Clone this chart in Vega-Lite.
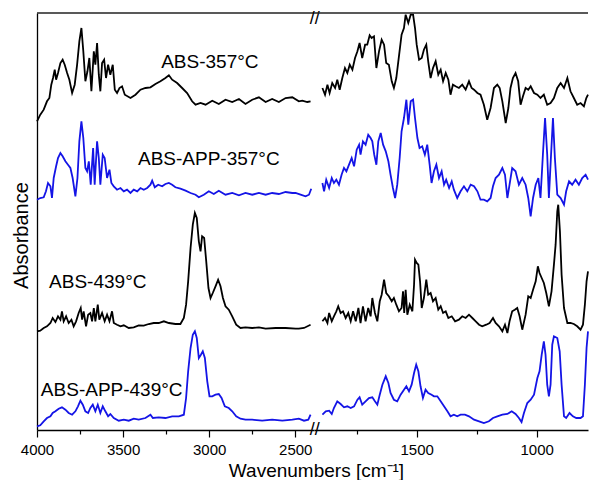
{
"$schema": "https://vega.github.io/schema/vega-lite/v6.json",
"background": "white",
"padding": {"left": 11, "top": 10, "right": 0, "bottom": 0},
"bounds": "flush",
"spacing": 0,
"config": {"view": {"stroke": null}, "font": "Liberation Sans", "concat": {"spacing": 0}},
"datasets": {
"spectra": [
{"s":"ABS-357","g":"L","wn":4000,"a":308.7},{"s":"ABS-357","g":"L","wn":3981,"a":315.3},{"s":"ABS-357","g":"L","wn":3961,"a":320.3},{"s":"ABS-357","g":"L","wn":3942,"a":328.7},{"s":"ABS-357","g":"L","wn":3928,"a":332},{"s":"ABS-357","g":"L","wn":3917,"a":345.3},{"s":"ABS-357","g":"L","wn":3907,"a":352},{"s":"ABS-357","g":"L","wn":3897,"a":360.3},{"s":"ABS-357","g":"L","wn":3889,"a":350.3},{"s":"ABS-357","g":"L","wn":3878,"a":357},{"s":"ABS-357","g":"L","wn":3864,"a":367},{"s":"ABS-357","g":"L","wn":3851,"a":370.3},{"s":"ABS-357","g":"L","wn":3839,"a":365.3},{"s":"ABS-357","g":"L","wn":3825,"a":357},{"s":"ABS-357","g":"L","wn":3812,"a":350.3},{"s":"ABS-357","g":"L","wn":3796,"a":337},{"s":"ABS-357","g":"L","wn":3781,"a":345.3},{"s":"ABS-357","g":"L","wn":3767,"a":365.3},{"s":"ABS-357","g":"L","wn":3754,"a":388.7},{"s":"ABS-357","g":"L","wn":3742,"a":402},{"s":"ABS-357","g":"L","wn":3731,"a":378.7},{"s":"ABS-357","g":"L","wn":3719,"a":348.7},{"s":"ABS-357","g":"L","wn":3707,"a":358.7},{"s":"ABS-357","g":"L","wn":3696,"a":372},{"s":"ABS-357","g":"L","wn":3684,"a":338.7},{"s":"ABS-357","g":"L","wn":3670,"a":378.7},{"s":"ABS-357","g":"L","wn":3661,"a":365.3},{"s":"ABS-357","g":"L","wn":3651,"a":387},{"s":"ABS-357","g":"L","wn":3641,"a":355.3},{"s":"ABS-357","g":"L","wn":3632,"a":338.7},{"s":"ABS-357","g":"L","wn":3622,"a":367},{"s":"ABS-357","g":"L","wn":3610,"a":370.3},{"s":"ABS-357","g":"L","wn":3599,"a":352},{"s":"ABS-357","g":"L","wn":3587,"a":365.3},{"s":"ABS-357","g":"L","wn":3574,"a":355.3},{"s":"ABS-357","g":"L","wn":3560,"a":365.3},{"s":"ABS-357","g":"L","wn":3548,"a":340.3},{"s":"ABS-357","g":"L","wn":3535,"a":337},{"s":"ABS-357","g":"L","wn":3521,"a":342},{"s":"ABS-357","g":"L","wn":3506,"a":343.7},{"s":"ABS-357","g":"L","wn":3490,"a":335.3},{"s":"ABS-357","g":"L","wn":3457,"a":332},{"s":"ABS-357","g":"L","wn":3428,"a":335.3},{"s":"ABS-357","g":"L","wn":3399,"a":340.3},{"s":"ABS-357","g":"L","wn":3370,"a":342},{"s":"ABS-357","g":"L","wn":3341,"a":342.7},{"s":"ABS-357","g":"L","wn":3312,"a":346},{"s":"ABS-357","g":"L","wn":3283,"a":348.7},{"s":"ABS-357","g":"L","wn":3254,"a":352},{"s":"ABS-357","g":"L","wn":3234,"a":354.7},{"s":"ABS-357","g":"L","wn":3215,"a":350.3},{"s":"ABS-357","g":"L","wn":3186,"a":347},{"s":"ABS-357","g":"L","wn":3157,"a":342},{"s":"ABS-357","g":"L","wn":3128,"a":337},{"s":"ABS-357","g":"L","wn":3099,"a":328.7},{"s":"ABS-357","g":"L","wn":3079,"a":325.3},{"s":"ABS-357","g":"L","wn":3050,"a":327},{"s":"ABS-357","g":"L","wn":3021,"a":325.3},{"s":"ABS-357","g":"L","wn":2982,"a":329.3},{"s":"ABS-357","g":"L","wn":2944,"a":326},{"s":"ABS-357","g":"L","wn":2905,"a":330.3},{"s":"ABS-357","g":"L","wn":2866,"a":328},{"s":"ABS-357","g":"L","wn":2827,"a":331},{"s":"ABS-357","g":"L","wn":2789,"a":326},{"s":"ABS-357","g":"L","wn":2750,"a":330.3},{"s":"ABS-357","g":"L","wn":2711,"a":332.7},{"s":"ABS-357","g":"L","wn":2672,"a":328},{"s":"ABS-357","g":"L","wn":2634,"a":331},{"s":"ABS-357","g":"L","wn":2595,"a":328},{"s":"ABS-357","g":"L","wn":2556,"a":332},{"s":"ABS-357","g":"L","wn":2517,"a":332.7},{"s":"ABS-357","g":"L","wn":2479,"a":328.7},{"s":"ABS-357","g":"L","wn":2459,"a":329.3},{"s":"ABS-357","g":"L","wn":2430,"a":328},{"s":"ABS-357","g":"L","wn":2411,"a":328.7},
{"s":"ABS-357","g":"R","wn":1893,"a":342},{"s":"ABS-357","g":"R","wn":1882,"a":335.3},{"s":"ABS-357","g":"R","wn":1872,"a":345.3},{"s":"ABS-357","g":"R","wn":1863,"a":337},{"s":"ABS-357","g":"R","wn":1852,"a":347},{"s":"ABS-357","g":"R","wn":1840,"a":342},{"s":"ABS-357","g":"R","wn":1831,"a":350.3},{"s":"ABS-357","g":"R","wn":1821,"a":340.3},{"s":"ABS-357","g":"R","wn":1810,"a":352},{"s":"ABS-357","g":"R","wn":1799,"a":362},{"s":"ABS-357","g":"R","wn":1789,"a":357},{"s":"ABS-357","g":"R","wn":1779,"a":365.3},{"s":"ABS-357","g":"R","wn":1768,"a":360.3},{"s":"ABS-357","g":"R","wn":1757,"a":372},{"s":"ABS-357","g":"R","wn":1747,"a":378.7},{"s":"ABS-357","g":"R","wn":1738,"a":387},{"s":"ABS-357","g":"R","wn":1727,"a":372},{"s":"ABS-357","g":"R","wn":1715,"a":385.3},{"s":"ABS-357","g":"R","wn":1706,"a":385.3},{"s":"ABS-357","g":"R","wn":1696,"a":394.7},{"s":"ABS-357","g":"R","wn":1688,"a":392},{"s":"ABS-357","g":"R","wn":1678,"a":393.7},{"s":"ABS-357","g":"R","wn":1668,"a":362},{"s":"ABS-357","g":"R","wn":1657,"a":378.7},{"s":"ABS-357","g":"R","wn":1646,"a":390.3},{"s":"ABS-357","g":"R","wn":1636,"a":385.3},{"s":"ABS-357","g":"R","wn":1627,"a":367},{"s":"ABS-357","g":"R","wn":1616,"a":365.3},{"s":"ABS-357","g":"R","wn":1604,"a":348.7},{"s":"ABS-357","g":"R","wn":1595,"a":342},{"s":"ABS-357","g":"R","wn":1585,"a":352},{"s":"ABS-357","g":"R","wn":1574,"a":373.7},{"s":"ABS-357","g":"R","wn":1563,"a":395.3},{"s":"ABS-357","g":"R","wn":1553,"a":402},{"s":"ABS-357","g":"R","wn":1546,"a":415.3},{"s":"ABS-357","g":"R","wn":1535,"a":407},{"s":"ABS-357","g":"R","wn":1525,"a":415.3},{"s":"ABS-357","g":"R","wn":1515,"a":415.3},{"s":"ABS-357","g":"R","wn":1507,"a":402},{"s":"ABS-357","g":"R","wn":1500,"a":385.3},{"s":"ABS-357","g":"R","wn":1490,"a":370.3},{"s":"ABS-357","g":"R","wn":1479,"a":372},{"s":"ABS-357","g":"R","wn":1470,"a":380.3},{"s":"ABS-357","g":"R","wn":1460,"a":385.3},{"s":"ABS-357","g":"R","wn":1452,"a":368.7},{"s":"ABS-357","g":"R","wn":1442,"a":352},{"s":"ABS-357","g":"R","wn":1432,"a":362},{"s":"ABS-357","g":"R","wn":1421,"a":368.7},{"s":"ABS-357","g":"R","wn":1410,"a":355.3},{"s":"ABS-357","g":"R","wn":1400,"a":360.3},{"s":"ABS-357","g":"R","wn":1390,"a":348.7},{"s":"ABS-357","g":"R","wn":1379,"a":357},{"s":"ABS-357","g":"R","wn":1368,"a":350.3},{"s":"ABS-357","g":"R","wn":1359,"a":335.3},{"s":"ABS-357","g":"R","wn":1349,"a":345.3},{"s":"ABS-357","g":"R","wn":1338,"a":343.7},{"s":"ABS-357","g":"R","wn":1324,"a":342},{"s":"ABS-357","g":"R","wn":1310,"a":345.3},{"s":"ABS-357","g":"R","wn":1296,"a":340.3},{"s":"ABS-357","g":"R","wn":1282,"a":348.7},{"s":"ABS-357","g":"R","wn":1271,"a":342},{"s":"ABS-357","g":"R","wn":1261,"a":340.3},{"s":"ABS-357","g":"R","wn":1247,"a":337},{"s":"ABS-357","g":"R","wn":1234,"a":335.3},{"s":"ABS-357","g":"R","wn":1220,"a":325.3},{"s":"ABS-357","g":"R","wn":1206,"a":310.3},{"s":"ABS-357","g":"R","wn":1192,"a":322},{"s":"ABS-357","g":"R","wn":1178,"a":342},{"s":"ABS-357","g":"R","wn":1164,"a":345.3},{"s":"ABS-357","g":"R","wn":1154,"a":342},{"s":"ABS-357","g":"R","wn":1143,"a":328.7},{"s":"ABS-357","g":"R","wn":1129,"a":307},{"s":"ABS-357","g":"R","wn":1118,"a":322},{"s":"ABS-357","g":"R","wn":1109,"a":342},{"s":"ABS-357","g":"R","wn":1099,"a":352},{"s":"ABS-357","g":"R","wn":1088,"a":357},{"s":"ABS-357","g":"R","wn":1077,"a":348.7},{"s":"ABS-357","g":"R","wn":1067,"a":325.3},{"s":"ABS-357","g":"R","wn":1057,"a":333.7},{"s":"ABS-357","g":"R","wn":1046,"a":342},{"s":"ABS-357","g":"R","wn":1035,"a":340.3},{"s":"ABS-357","g":"R","wn":1025,"a":343.7},{"s":"ABS-357","g":"R","wn":1011,"a":337},{"s":"ABS-357","g":"R","wn":997,"a":335.3},{"s":"ABS-357","g":"R","wn":984,"a":332},{"s":"ABS-357","g":"R","wn":970,"a":335.3},{"s":"ABS-357","g":"R","wn":956,"a":325.3},{"s":"ABS-357","g":"R","wn":942,"a":327},{"s":"ABS-357","g":"R","wn":928,"a":332},{"s":"ABS-357","g":"R","wn":914,"a":342},{"s":"ABS-357","g":"R","wn":900,"a":347},{"s":"ABS-357","g":"R","wn":886,"a":342},{"s":"ABS-357","g":"R","wn":872,"a":352},{"s":"ABS-357","g":"R","wn":859,"a":338.7},{"s":"ABS-357","g":"R","wn":845,"a":332},{"s":"ABS-357","g":"R","wn":831,"a":325.3},{"s":"ABS-357","g":"R","wn":817,"a":327},{"s":"ABS-357","g":"R","wn":803,"a":323.7},{"s":"ABS-357","g":"R","wn":793,"a":332},{"s":"ABS-357","g":"R","wn":786,"a":335.3},
{"s":"ABS-APP-357","g":"L","wn":4000,"a":230.3},{"s":"ABS-APP-357","g":"L","wn":3981,"a":232},{"s":"ABS-APP-357","g":"L","wn":3961,"a":232.7},{"s":"ABS-APP-357","g":"L","wn":3948,"a":238.7},{"s":"ABS-APP-357","g":"L","wn":3936,"a":247},{"s":"ABS-APP-357","g":"L","wn":3922,"a":243.7},{"s":"ABS-APP-357","g":"L","wn":3913,"a":232},{"s":"ABS-APP-357","g":"L","wn":3903,"a":252},{"s":"ABS-APP-357","g":"L","wn":3889,"a":263.7},{"s":"ABS-APP-357","g":"L","wn":3878,"a":272},{"s":"ABS-APP-357","g":"L","wn":3864,"a":277},{"s":"ABS-APP-357","g":"L","wn":3851,"a":273.7},{"s":"ABS-APP-357","g":"L","wn":3835,"a":268.7},{"s":"ABS-APP-357","g":"L","wn":3820,"a":265.3},{"s":"ABS-APP-357","g":"L","wn":3806,"a":262},{"s":"ABS-APP-357","g":"L","wn":3793,"a":252},{"s":"ABS-APP-357","g":"L","wn":3777,"a":233.7},{"s":"ABS-APP-357","g":"L","wn":3765,"a":252},{"s":"ABS-APP-357","g":"L","wn":3754,"a":288.7},{"s":"ABS-APP-357","g":"L","wn":3742,"a":308.7},{"s":"ABS-APP-357","g":"L","wn":3731,"a":292},{"s":"ABS-APP-357","g":"L","wn":3719,"a":262},{"s":"ABS-APP-357","g":"L","wn":3709,"a":258.7},{"s":"ABS-APP-357","g":"L","wn":3699,"a":268.7},{"s":"ABS-APP-357","g":"L","wn":3688,"a":245.3},{"s":"ABS-APP-357","g":"L","wn":3674,"a":282},{"s":"ABS-APP-357","g":"L","wn":3665,"a":245.3},{"s":"ABS-APP-357","g":"L","wn":3651,"a":288.7},{"s":"ABS-APP-357","g":"L","wn":3641,"a":272},{"s":"ABS-APP-357","g":"L","wn":3632,"a":245.3},{"s":"ABS-APP-357","g":"L","wn":3618,"a":275.3},{"s":"ABS-APP-357","g":"L","wn":3607,"a":272},{"s":"ABS-APP-357","g":"L","wn":3593,"a":252},{"s":"ABS-APP-357","g":"L","wn":3579,"a":260.3},{"s":"ABS-APP-357","g":"L","wn":3568,"a":247},{"s":"ABS-APP-357","g":"L","wn":3554,"a":243.7},{"s":"ABS-APP-357","g":"L","wn":3535,"a":240.3},{"s":"ABS-APP-357","g":"L","wn":3515,"a":242},{"s":"ABS-APP-357","g":"L","wn":3496,"a":238.7},{"s":"ABS-APP-357","g":"L","wn":3477,"a":240.3},{"s":"ABS-APP-357","g":"L","wn":3457,"a":237},{"s":"ABS-APP-357","g":"L","wn":3438,"a":240.3},{"s":"ABS-APP-357","g":"L","wn":3418,"a":238.7},{"s":"ABS-APP-357","g":"L","wn":3399,"a":242},{"s":"ABS-APP-357","g":"L","wn":3380,"a":240.3},{"s":"ABS-APP-357","g":"L","wn":3360,"a":242},{"s":"ABS-APP-357","g":"L","wn":3341,"a":245.3},{"s":"ABS-APP-357","g":"L","wn":3331,"a":249.3},{"s":"ABS-APP-357","g":"L","wn":3316,"a":242.7},{"s":"ABS-APP-357","g":"L","wn":3296,"a":245.3},{"s":"ABS-APP-357","g":"L","wn":3273,"a":243.7},{"s":"ABS-APP-357","g":"L","wn":3254,"a":246},{"s":"ABS-APP-357","g":"L","wn":3234,"a":247},{"s":"ABS-APP-357","g":"L","wn":3215,"a":245.3},{"s":"ABS-APP-357","g":"L","wn":3196,"a":242.7},{"s":"ABS-APP-357","g":"L","wn":3167,"a":241.3},{"s":"ABS-APP-357","g":"L","wn":3137,"a":239.3},{"s":"ABS-APP-357","g":"L","wn":3108,"a":237},{"s":"ABS-APP-357","g":"L","wn":3079,"a":235.3},{"s":"ABS-APP-357","g":"L","wn":3060,"a":232.7},{"s":"ABS-APP-357","g":"L","wn":3031,"a":235.3},{"s":"ABS-APP-357","g":"L","wn":3002,"a":238.7},{"s":"ABS-APP-357","g":"L","wn":2973,"a":236},{"s":"ABS-APP-357","g":"L","wn":2944,"a":239.3},{"s":"ABS-APP-357","g":"L","wn":2905,"a":235.3},{"s":"ABS-APP-357","g":"L","wn":2866,"a":237},{"s":"ABS-APP-357","g":"L","wn":2827,"a":234.7},{"s":"ABS-APP-357","g":"L","wn":2789,"a":237},{"s":"ABS-APP-357","g":"L","wn":2750,"a":235.3},{"s":"ABS-APP-357","g":"L","wn":2711,"a":237},{"s":"ABS-APP-357","g":"L","wn":2672,"a":235.3},{"s":"ABS-APP-357","g":"L","wn":2634,"a":237},{"s":"ABS-APP-357","g":"L","wn":2595,"a":236},{"s":"ABS-APP-357","g":"L","wn":2556,"a":238},{"s":"ABS-APP-357","g":"L","wn":2517,"a":237},{"s":"ABS-APP-357","g":"L","wn":2498,"a":237},{"s":"ABS-APP-357","g":"L","wn":2469,"a":235.3},{"s":"ABS-APP-357","g":"L","wn":2440,"a":233.7},{"s":"ABS-APP-357","g":"L","wn":2420,"a":235.3},{"s":"ABS-APP-357","g":"L","wn":2407,"a":241.3},
{"s":"ABS-APP-357","g":"R","wn":1893,"a":247},{"s":"ABS-APP-357","g":"R","wn":1886,"a":238.7},{"s":"ABS-APP-357","g":"R","wn":1877,"a":250.3},{"s":"ABS-APP-357","g":"R","wn":1865,"a":242},{"s":"ABS-APP-357","g":"R","wn":1854,"a":252},{"s":"ABS-APP-357","g":"R","wn":1845,"a":247},{"s":"ABS-APP-357","g":"R","wn":1835,"a":250.3},{"s":"ABS-APP-357","g":"R","wn":1824,"a":245.3},{"s":"ABS-APP-357","g":"R","wn":1813,"a":255.3},{"s":"ABS-APP-357","g":"R","wn":1803,"a":262},{"s":"ABS-APP-357","g":"R","wn":1793,"a":258.7},{"s":"ABS-APP-357","g":"R","wn":1782,"a":265.3},{"s":"ABS-APP-357","g":"R","wn":1771,"a":272},{"s":"ABS-APP-357","g":"R","wn":1761,"a":263.7},{"s":"ABS-APP-357","g":"R","wn":1750,"a":280.3},{"s":"ABS-APP-357","g":"R","wn":1740,"a":285.3},{"s":"ABS-APP-357","g":"R","wn":1734,"a":275.3},{"s":"ABS-APP-357","g":"R","wn":1724,"a":288.7},{"s":"ABS-APP-357","g":"R","wn":1713,"a":285.3},{"s":"ABS-APP-357","g":"R","wn":1702,"a":295.3},{"s":"ABS-APP-357","g":"R","wn":1692,"a":292},{"s":"ABS-APP-357","g":"R","wn":1685,"a":288.7},{"s":"ABS-APP-357","g":"R","wn":1677,"a":275.3},{"s":"ABS-APP-357","g":"R","wn":1668,"a":265.3},{"s":"ABS-APP-357","g":"R","wn":1660,"a":288.7},{"s":"ABS-APP-357","g":"R","wn":1650,"a":297},{"s":"ABS-APP-357","g":"R","wn":1640,"a":285.3},{"s":"ABS-APP-357","g":"R","wn":1629,"a":278.7},{"s":"ABS-APP-357","g":"R","wn":1618,"a":268.7},{"s":"ABS-APP-357","g":"R","wn":1609,"a":255.3},{"s":"ABS-APP-357","g":"R","wn":1599,"a":242},{"s":"ABS-APP-357","g":"R","wn":1590,"a":232},{"s":"ABS-APP-357","g":"R","wn":1581,"a":245.3},{"s":"ABS-APP-357","g":"R","wn":1571,"a":272},{"s":"ABS-APP-357","g":"R","wn":1563,"a":298.7},{"s":"ABS-APP-357","g":"R","wn":1553,"a":312},{"s":"ABS-APP-357","g":"R","wn":1543,"a":330.3},{"s":"ABS-APP-357","g":"R","wn":1535,"a":305.3},{"s":"ABS-APP-357","g":"R","wn":1525,"a":328.7},{"s":"ABS-APP-357","g":"R","wn":1515,"a":330.3},{"s":"ABS-APP-357","g":"R","wn":1507,"a":312},{"s":"ABS-APP-357","g":"R","wn":1497,"a":292},{"s":"ABS-APP-357","g":"R","wn":1488,"a":282},{"s":"ABS-APP-357","g":"R","wn":1477,"a":283.7},{"s":"ABS-APP-357","g":"R","wn":1466,"a":275.3},{"s":"ABS-APP-357","g":"R","wn":1456,"a":285.3},{"s":"ABS-APP-357","g":"R","wn":1446,"a":265.3},{"s":"ABS-APP-357","g":"R","wn":1438,"a":247},{"s":"ABS-APP-357","g":"R","wn":1428,"a":258.7},{"s":"ABS-APP-357","g":"R","wn":1418,"a":265.3},{"s":"ABS-APP-357","g":"R","wn":1407,"a":252},{"s":"ABS-APP-357","g":"R","wn":1396,"a":258.7},{"s":"ABS-APP-357","g":"R","wn":1386,"a":245.3},{"s":"ABS-APP-357","g":"R","wn":1377,"a":250.3},{"s":"ABS-APP-357","g":"R","wn":1365,"a":242},{"s":"ABS-APP-357","g":"R","wn":1354,"a":248.7},{"s":"ABS-APP-357","g":"R","wn":1345,"a":240.3},{"s":"ABS-APP-357","g":"R","wn":1331,"a":232},{"s":"ABS-APP-357","g":"R","wn":1317,"a":238.7},{"s":"ABS-APP-357","g":"R","wn":1303,"a":243.7},{"s":"ABS-APP-357","g":"R","wn":1289,"a":238.7},{"s":"ABS-APP-357","g":"R","wn":1275,"a":245.3},{"s":"ABS-APP-357","g":"R","wn":1261,"a":243.7},{"s":"ABS-APP-357","g":"R","wn":1247,"a":238.7},{"s":"ABS-APP-357","g":"R","wn":1234,"a":230.3},{"s":"ABS-APP-357","g":"R","wn":1220,"a":230.3},{"s":"ABS-APP-357","g":"R","wn":1206,"a":228.7},{"s":"ABS-APP-357","g":"R","wn":1192,"a":232},{"s":"ABS-APP-357","g":"R","wn":1182,"a":243.7},{"s":"ABS-APP-357","g":"R","wn":1171,"a":252},{"s":"ABS-APP-357","g":"R","wn":1157,"a":255.3},{"s":"ABS-APP-357","g":"R","wn":1143,"a":262},{"s":"ABS-APP-357","g":"R","wn":1132,"a":255.3},{"s":"ABS-APP-357","g":"R","wn":1122,"a":232},{"s":"ABS-APP-357","g":"R","wn":1113,"a":245.3},{"s":"ABS-APP-357","g":"R","wn":1102,"a":262},{"s":"ABS-APP-357","g":"R","wn":1088,"a":258.7},{"s":"ABS-APP-357","g":"R","wn":1074,"a":245.3},{"s":"ABS-APP-357","g":"R","wn":1060,"a":252},{"s":"ABS-APP-357","g":"R","wn":1046,"a":245.3},{"s":"ABS-APP-357","g":"R","wn":1035,"a":232},{"s":"ABS-APP-357","g":"R","wn":1025,"a":213.7},{"s":"ABS-APP-357","g":"R","wn":1015,"a":232},{"s":"ABS-APP-357","g":"R","wn":1004,"a":245.3},{"s":"ABS-APP-357","g":"R","wn":993,"a":252},{"s":"ABS-APP-357","g":"R","wn":984,"a":232},{"s":"ABS-APP-357","g":"R","wn":974,"a":275.3},{"s":"ABS-APP-357","g":"R","wn":965,"a":312},{"s":"ABS-APP-357","g":"R","wn":956,"a":275.3},{"s":"ABS-APP-357","g":"R","wn":949,"a":232},{"s":"ABS-APP-357","g":"R","wn":940,"a":275.3},{"s":"ABS-APP-357","g":"R","wn":932,"a":312},{"s":"ABS-APP-357","g":"R","wn":924,"a":272},{"s":"ABS-APP-357","g":"R","wn":914,"a":235.3},{"s":"ABS-APP-357","g":"R","wn":900,"a":232},{"s":"ABS-APP-357","g":"R","wn":886,"a":225.3},{"s":"ABS-APP-357","g":"R","wn":877,"a":238.7},{"s":"ABS-APP-357","g":"R","wn":865,"a":248.7},{"s":"ABS-APP-357","g":"R","wn":852,"a":245.3},{"s":"ABS-APP-357","g":"R","wn":838,"a":250.3},{"s":"ABS-APP-357","g":"R","wn":824,"a":245.3},{"s":"ABS-APP-357","g":"R","wn":810,"a":252},{"s":"ABS-APP-357","g":"R","wn":796,"a":255.3},{"s":"ABS-APP-357","g":"R","wn":786,"a":250.3},
{"s":"ABS-439","g":"L","wn":4000,"a":98.7},{"s":"ABS-439","g":"L","wn":3981,"a":99.3},{"s":"ABS-439","g":"L","wn":3961,"a":102},{"s":"ABS-439","g":"L","wn":3942,"a":103.7},{"s":"ABS-439","g":"L","wn":3922,"a":107},{"s":"ABS-439","g":"L","wn":3909,"a":112},{"s":"ABS-439","g":"L","wn":3893,"a":108},{"s":"ABS-439","g":"L","wn":3878,"a":113.7},{"s":"ABS-439","g":"L","wn":3864,"a":110.3},{"s":"ABS-439","g":"L","wn":3855,"a":118.7},{"s":"ABS-439","g":"L","wn":3845,"a":108.7},{"s":"ABS-439","g":"L","wn":3831,"a":113.7},{"s":"ABS-439","g":"L","wn":3816,"a":107},{"s":"ABS-439","g":"L","wn":3800,"a":110.3},{"s":"ABS-439","g":"L","wn":3787,"a":103.7},{"s":"ABS-439","g":"L","wn":3773,"a":108.7},{"s":"ABS-439","g":"L","wn":3758,"a":117},{"s":"ABS-439","g":"L","wn":3746,"a":122},{"s":"ABS-439","g":"L","wn":3738,"a":110.3},{"s":"ABS-439","g":"L","wn":3729,"a":118.7},{"s":"ABS-439","g":"L","wn":3715,"a":103.7},{"s":"ABS-439","g":"L","wn":3703,"a":115.3},{"s":"ABS-439","g":"L","wn":3690,"a":117},{"s":"ABS-439","g":"L","wn":3680,"a":108.7},{"s":"ABS-439","g":"L","wn":3670,"a":122},{"s":"ABS-439","g":"L","wn":3661,"a":108.7},{"s":"ABS-439","g":"L","wn":3647,"a":125.3},{"s":"ABS-439","g":"L","wn":3638,"a":110.3},{"s":"ABS-439","g":"L","wn":3622,"a":117},{"s":"ABS-439","g":"L","wn":3607,"a":108.7},{"s":"ABS-439","g":"L","wn":3593,"a":115.3},{"s":"ABS-439","g":"L","wn":3579,"a":108.7},{"s":"ABS-439","g":"L","wn":3564,"a":118.7},{"s":"ABS-439","g":"L","wn":3554,"a":107},{"s":"ABS-439","g":"L","wn":3535,"a":105.3},{"s":"ABS-439","g":"L","wn":3515,"a":103.7},{"s":"ABS-439","g":"L","wn":3496,"a":104.7},{"s":"ABS-439","g":"L","wn":3467,"a":102},{"s":"ABS-439","g":"L","wn":3438,"a":102.7},{"s":"ABS-439","g":"L","wn":3409,"a":104.7},{"s":"ABS-439","g":"L","wn":3380,"a":104.3},{"s":"ABS-439","g":"L","wn":3351,"a":106},{"s":"ABS-439","g":"L","wn":3322,"a":107},{"s":"ABS-439","g":"L","wn":3293,"a":107},{"s":"ABS-439","g":"L","wn":3263,"a":108.7},{"s":"ABS-439","g":"L","wn":3234,"a":107},{"s":"ABS-439","g":"L","wn":3196,"a":106},{"s":"ABS-439","g":"L","wn":3167,"a":106},{"s":"ABS-439","g":"L","wn":3147,"a":112},{"s":"ABS-439","g":"L","wn":3134,"a":125.3},{"s":"ABS-439","g":"L","wn":3122,"a":148.7},{"s":"ABS-439","g":"L","wn":3108,"a":182},{"s":"ABS-439","g":"L","wn":3095,"a":205.3},{"s":"ABS-439","g":"L","wn":3083,"a":217},{"s":"ABS-439","g":"L","wn":3072,"a":212},{"s":"ABS-439","g":"L","wn":3060,"a":188.7},{"s":"ABS-439","g":"L","wn":3050,"a":178.7},{"s":"ABS-439","g":"L","wn":3041,"a":193.7},{"s":"ABS-439","g":"L","wn":3029,"a":192},{"s":"ABS-439","g":"L","wn":3017,"a":168.7},{"s":"ABS-439","g":"L","wn":3004,"a":142},{"s":"ABS-439","g":"L","wn":2992,"a":132},{"s":"ABS-439","g":"L","wn":2979,"a":137},{"s":"ABS-439","g":"L","wn":2963,"a":143.7},{"s":"ABS-439","g":"L","wn":2948,"a":150.3},{"s":"ABS-439","g":"L","wn":2934,"a":143.7},{"s":"ABS-439","g":"L","wn":2920,"a":132},{"s":"ABS-439","g":"L","wn":2905,"a":123.7},{"s":"ABS-439","g":"L","wn":2886,"a":120.3},{"s":"ABS-439","g":"L","wn":2866,"a":113.7},{"s":"ABS-439","g":"L","wn":2843,"a":105.3},{"s":"ABS-439","g":"L","wn":2818,"a":102},{"s":"ABS-439","g":"L","wn":2789,"a":102.7},{"s":"ABS-439","g":"L","wn":2750,"a":102},{"s":"ABS-439","g":"L","wn":2711,"a":102.7},{"s":"ABS-439","g":"L","wn":2672,"a":101.3},{"s":"ABS-439","g":"L","wn":2614,"a":102},{"s":"ABS-439","g":"L","wn":2556,"a":102},{"s":"ABS-439","g":"L","wn":2498,"a":101.3},{"s":"ABS-439","g":"L","wn":2479,"a":101.3},{"s":"ABS-439","g":"L","wn":2449,"a":102},{"s":"ABS-439","g":"L","wn":2411,"a":105.3},
{"s":"ABS-439","g":"R","wn":1893,"a":108.7},{"s":"ABS-439","g":"R","wn":1882,"a":112},{"s":"ABS-439","g":"R","wn":1872,"a":107},{"s":"ABS-439","g":"R","wn":1865,"a":117},{"s":"ABS-439","g":"R","wn":1854,"a":108.7},{"s":"ABS-439","g":"R","wn":1845,"a":113.7},{"s":"ABS-439","g":"R","wn":1835,"a":118.7},{"s":"ABS-439","g":"R","wn":1827,"a":123.7},{"s":"ABS-439","g":"R","wn":1817,"a":117},{"s":"ABS-439","g":"R","wn":1807,"a":118.7},{"s":"ABS-439","g":"R","wn":1796,"a":112},{"s":"ABS-439","g":"R","wn":1785,"a":117},{"s":"ABS-439","g":"R","wn":1775,"a":108.7},{"s":"ABS-439","g":"R","wn":1765,"a":118.7},{"s":"ABS-439","g":"R","wn":1754,"a":108.7},{"s":"ABS-439","g":"R","wn":1743,"a":122},{"s":"ABS-439","g":"R","wn":1734,"a":107},{"s":"ABS-439","g":"R","wn":1724,"a":123.7},{"s":"ABS-439","g":"R","wn":1713,"a":108.7},{"s":"ABS-439","g":"R","wn":1702,"a":122},{"s":"ABS-439","g":"R","wn":1692,"a":113.7},{"s":"ABS-439","g":"R","wn":1685,"a":132},{"s":"ABS-439","g":"R","wn":1674,"a":117},{"s":"ABS-439","g":"R","wn":1664,"a":108.7},{"s":"ABS-439","g":"R","wn":1654,"a":128.7},{"s":"ABS-439","g":"R","wn":1646,"a":135.3},{"s":"ABS-439","g":"R","wn":1636,"a":150.3},{"s":"ABS-439","g":"R","wn":1627,"a":137},{"s":"ABS-439","g":"R","wn":1616,"a":133.7},{"s":"ABS-439","g":"R","wn":1604,"a":128.7},{"s":"ABS-439","g":"R","wn":1595,"a":132},{"s":"ABS-439","g":"R","wn":1585,"a":125.3},{"s":"ABS-439","g":"R","wn":1574,"a":118.7},{"s":"ABS-439","g":"R","wn":1563,"a":122},{"s":"ABS-439","g":"R","wn":1557,"a":138.7},{"s":"ABS-439","g":"R","wn":1552,"a":117},{"s":"ABS-439","g":"R","wn":1546,"a":140.3},{"s":"ABS-439","g":"R","wn":1539,"a":115.3},{"s":"ABS-439","g":"R","wn":1529,"a":125.3},{"s":"ABS-439","g":"R","wn":1518,"a":118.7},{"s":"ABS-439","g":"R","wn":1511,"a":145.3},{"s":"ABS-439","g":"R","wn":1507,"a":170.3},{"s":"ABS-439","g":"R","wn":1500,"a":167},{"s":"ABS-439","g":"R","wn":1493,"a":165.3},{"s":"ABS-439","g":"R","wn":1486,"a":148.7},{"s":"ABS-439","g":"R","wn":1479,"a":122},{"s":"ABS-439","g":"R","wn":1470,"a":132},{"s":"ABS-439","g":"R","wn":1460,"a":150.3},{"s":"ABS-439","g":"R","wn":1452,"a":135.3},{"s":"ABS-439","g":"R","wn":1442,"a":137},{"s":"ABS-439","g":"R","wn":1432,"a":128.7},{"s":"ABS-439","g":"R","wn":1421,"a":132},{"s":"ABS-439","g":"R","wn":1410,"a":120.3},{"s":"ABS-439","g":"R","wn":1400,"a":123.7},{"s":"ABS-439","g":"R","wn":1390,"a":117},{"s":"ABS-439","g":"R","wn":1379,"a":118.7},{"s":"ABS-439","g":"R","wn":1368,"a":112},{"s":"ABS-439","g":"R","wn":1354,"a":113.7},{"s":"ABS-439","g":"R","wn":1340,"a":108.7},{"s":"ABS-439","g":"R","wn":1324,"a":110.3},{"s":"ABS-439","g":"R","wn":1310,"a":113.7},{"s":"ABS-439","g":"R","wn":1296,"a":112},{"s":"ABS-439","g":"R","wn":1282,"a":115.3},{"s":"ABS-439","g":"R","wn":1268,"a":112},{"s":"ABS-439","g":"R","wn":1254,"a":108.7},{"s":"ABS-439","g":"R","wn":1240,"a":105.3},{"s":"ABS-439","g":"R","wn":1227,"a":103.7},{"s":"ABS-439","g":"R","wn":1210,"a":105.3},{"s":"ABS-439","g":"R","wn":1196,"a":107},{"s":"ABS-439","g":"R","wn":1182,"a":112},{"s":"ABS-439","g":"R","wn":1171,"a":107},{"s":"ABS-439","g":"R","wn":1157,"a":103.7},{"s":"ABS-439","g":"R","wn":1143,"a":98.7},{"s":"ABS-439","g":"R","wn":1132,"a":105.3},{"s":"ABS-439","g":"R","wn":1122,"a":97},{"s":"ABS-439","g":"R","wn":1113,"a":108.7},{"s":"ABS-439","g":"R","wn":1102,"a":118.7},{"s":"ABS-439","g":"R","wn":1091,"a":120.3},{"s":"ABS-439","g":"R","wn":1081,"a":122},{"s":"ABS-439","g":"R","wn":1071,"a":113.7},{"s":"ABS-439","g":"R","wn":1060,"a":100.3},{"s":"ABS-439","g":"R","wn":1046,"a":115.3},{"s":"ABS-439","g":"R","wn":1035,"a":133.7},{"s":"ABS-439","g":"R","wn":1025,"a":132},{"s":"ABS-439","g":"R","wn":1015,"a":140.3},{"s":"ABS-439","g":"R","wn":1004,"a":148.7},{"s":"ABS-439","g":"R","wn":995,"a":163.7},{"s":"ABS-439","g":"R","wn":988,"a":157},{"s":"ABS-439","g":"R","wn":979,"a":152},{"s":"ABS-439","g":"R","wn":970,"a":147},{"s":"ABS-439","g":"R","wn":960,"a":137},{"s":"ABS-439","g":"R","wn":949,"a":123.7},{"s":"ABS-439","g":"R","wn":938,"a":138.7},{"s":"ABS-439","g":"R","wn":928,"a":165.3},{"s":"ABS-439","g":"R","wn":921,"a":185.3},{"s":"ABS-439","g":"R","wn":914,"a":218.7},{"s":"ABS-439","g":"R","wn":910,"a":225.3},{"s":"ABS-439","g":"R","wn":903,"a":198.7},{"s":"ABS-439","g":"R","wn":896,"a":155.3},{"s":"ABS-439","g":"R","wn":886,"a":122},{"s":"ABS-439","g":"R","wn":872,"a":107},{"s":"ABS-439","g":"R","wn":859,"a":107},{"s":"ABS-439","g":"R","wn":845,"a":106},{"s":"ABS-439","g":"R","wn":831,"a":103.7},{"s":"ABS-439","g":"R","wn":817,"a":100.3},{"s":"ABS-439","g":"R","wn":807,"a":105.3},{"s":"ABS-439","g":"R","wn":799,"a":125.3},{"s":"ABS-439","g":"R","wn":792,"a":148.7},{"s":"ABS-439","g":"R","wn":786,"a":158.7},
{"s":"ABS-APP-439","g":"L","wn":4000,"a":3.7},{"s":"ABS-APP-439","g":"L","wn":3981,"a":4.7},{"s":"ABS-APP-439","g":"L","wn":3961,"a":8.7},{"s":"ABS-APP-439","g":"L","wn":3942,"a":12},{"s":"ABS-APP-439","g":"L","wn":3922,"a":13.7},{"s":"ABS-APP-439","g":"L","wn":3909,"a":17},{"s":"ABS-APP-439","g":"L","wn":3893,"a":18.7},{"s":"ABS-APP-439","g":"L","wn":3874,"a":21.3},{"s":"ABS-APP-439","g":"L","wn":3855,"a":22.7},{"s":"ABS-APP-439","g":"L","wn":3835,"a":20.3},{"s":"ABS-APP-439","g":"L","wn":3816,"a":17},{"s":"ABS-APP-439","g":"L","wn":3796,"a":15.3},{"s":"ABS-APP-439","g":"L","wn":3777,"a":18.7},{"s":"ABS-APP-439","g":"L","wn":3762,"a":23.7},{"s":"ABS-APP-439","g":"L","wn":3748,"a":29.3},{"s":"ABS-APP-439","g":"L","wn":3734,"a":25.3},{"s":"ABS-APP-439","g":"L","wn":3719,"a":18.7},{"s":"ABS-APP-439","g":"L","wn":3703,"a":17},{"s":"ABS-APP-439","g":"L","wn":3690,"a":22},{"s":"ABS-APP-439","g":"L","wn":3676,"a":25.3},{"s":"ABS-APP-439","g":"L","wn":3661,"a":18.7},{"s":"ABS-APP-439","g":"L","wn":3647,"a":25.3},{"s":"ABS-APP-439","g":"L","wn":3632,"a":17},{"s":"ABS-APP-439","g":"L","wn":3618,"a":23.7},{"s":"ABS-APP-439","g":"L","wn":3603,"a":18.7},{"s":"ABS-APP-439","g":"L","wn":3587,"a":13.7},{"s":"ABS-APP-439","g":"L","wn":3574,"a":16},{"s":"ABS-APP-439","g":"L","wn":3554,"a":12},{"s":"ABS-APP-439","g":"L","wn":3525,"a":9.3},{"s":"ABS-APP-439","g":"L","wn":3496,"a":10.3},{"s":"ABS-APP-439","g":"L","wn":3467,"a":9.3},{"s":"ABS-APP-439","g":"L","wn":3438,"a":11.3},{"s":"ABS-APP-439","g":"L","wn":3409,"a":10.3},{"s":"ABS-APP-439","g":"L","wn":3370,"a":12},{"s":"ABS-APP-439","g":"L","wn":3341,"a":15.3},{"s":"ABS-APP-439","g":"L","wn":3327,"a":12},{"s":"ABS-APP-439","g":"L","wn":3293,"a":12.7},{"s":"ABS-APP-439","g":"L","wn":3254,"a":12},{"s":"ABS-APP-439","g":"L","wn":3215,"a":13.7},{"s":"ABS-APP-439","g":"L","wn":3176,"a":13.7},{"s":"ABS-APP-439","g":"L","wn":3147,"a":15.3},{"s":"ABS-APP-439","g":"L","wn":3134,"a":32},{"s":"ABS-APP-439","g":"L","wn":3122,"a":58.7},{"s":"ABS-APP-439","g":"L","wn":3108,"a":82},{"s":"ABS-APP-439","g":"L","wn":3095,"a":95.3},{"s":"ABS-APP-439","g":"L","wn":3083,"a":98.7},{"s":"ABS-APP-439","g":"L","wn":3072,"a":92},{"s":"ABS-APP-439","g":"L","wn":3060,"a":72},{"s":"ABS-APP-439","g":"L","wn":3048,"a":75.3},{"s":"ABS-APP-439","g":"L","wn":3037,"a":78.7},{"s":"ABS-APP-439","g":"L","wn":3025,"a":72},{"s":"ABS-APP-439","g":"L","wn":3011,"a":48.7},{"s":"ABS-APP-439","g":"L","wn":2998,"a":33.7},{"s":"ABS-APP-439","g":"L","wn":2982,"a":33.7},{"s":"ABS-APP-439","g":"L","wn":2963,"a":35.3},{"s":"ABS-APP-439","g":"L","wn":2944,"a":36},{"s":"ABS-APP-439","g":"L","wn":2928,"a":32},{"s":"ABS-APP-439","g":"L","wn":2909,"a":23.7},{"s":"ABS-APP-439","g":"L","wn":2886,"a":22},{"s":"ABS-APP-439","g":"L","wn":2866,"a":18.7},{"s":"ABS-APP-439","g":"L","wn":2843,"a":13.7},{"s":"ABS-APP-439","g":"L","wn":2818,"a":11.3},{"s":"ABS-APP-439","g":"L","wn":2789,"a":10.3},{"s":"ABS-APP-439","g":"L","wn":2750,"a":10.3},{"s":"ABS-APP-439","g":"L","wn":2692,"a":9.3},{"s":"ABS-APP-439","g":"L","wn":2634,"a":10.3},{"s":"ABS-APP-439","g":"L","wn":2575,"a":9.3},{"s":"ABS-APP-439","g":"L","wn":2517,"a":10.3},{"s":"ABS-APP-439","g":"L","wn":2479,"a":11.3},{"s":"ABS-APP-439","g":"L","wn":2449,"a":9.3},{"s":"ABS-APP-439","g":"L","wn":2424,"a":10.3},{"s":"ABS-APP-439","g":"L","wn":2411,"a":15.3},
{"s":"ABS-APP-439","g":"R","wn":1893,"a":15.3},{"s":"ABS-APP-439","g":"R","wn":1879,"a":18.7},{"s":"ABS-APP-439","g":"R","wn":1865,"a":19.3},{"s":"ABS-APP-439","g":"R","wn":1854,"a":16},{"s":"ABS-APP-439","g":"R","wn":1845,"a":22},{"s":"ABS-APP-439","g":"R","wn":1831,"a":28.7},{"s":"ABS-APP-439","g":"R","wn":1817,"a":26},{"s":"ABS-APP-439","g":"R","wn":1803,"a":22.7},{"s":"ABS-APP-439","g":"R","wn":1789,"a":23.7},{"s":"ABS-APP-439","g":"R","wn":1775,"a":22},{"s":"ABS-APP-439","g":"R","wn":1761,"a":23.7},{"s":"ABS-APP-439","g":"R","wn":1747,"a":30.3},{"s":"ABS-APP-439","g":"R","wn":1738,"a":32.7},{"s":"ABS-APP-439","g":"R","wn":1727,"a":25.3},{"s":"ABS-APP-439","g":"R","wn":1713,"a":28.7},{"s":"ABS-APP-439","g":"R","wn":1699,"a":32},{"s":"ABS-APP-439","g":"R","wn":1685,"a":32.7},{"s":"ABS-APP-439","g":"R","wn":1674,"a":28.7},{"s":"ABS-APP-439","g":"R","wn":1664,"a":25.3},{"s":"ABS-APP-439","g":"R","wn":1654,"a":35.3},{"s":"ABS-APP-439","g":"R","wn":1643,"a":45.3},{"s":"ABS-APP-439","g":"R","wn":1629,"a":53.7},{"s":"ABS-APP-439","g":"R","wn":1618,"a":47},{"s":"ABS-APP-439","g":"R","wn":1609,"a":37},{"s":"ABS-APP-439","g":"R","wn":1595,"a":30.3},{"s":"ABS-APP-439","g":"R","wn":1581,"a":28.7},{"s":"ABS-APP-439","g":"R","wn":1567,"a":35.3},{"s":"ABS-APP-439","g":"R","wn":1553,"a":40.3},{"s":"ABS-APP-439","g":"R","wn":1543,"a":43.7},{"s":"ABS-APP-439","g":"R","wn":1532,"a":38.7},{"s":"ABS-APP-439","g":"R","wn":1521,"a":45.3},{"s":"ABS-APP-439","g":"R","wn":1511,"a":57},{"s":"ABS-APP-439","g":"R","wn":1502,"a":65.3},{"s":"ABS-APP-439","g":"R","wn":1493,"a":58.7},{"s":"ABS-APP-439","g":"R","wn":1484,"a":43.7},{"s":"ABS-APP-439","g":"R","wn":1474,"a":32},{"s":"ABS-APP-439","g":"R","wn":1463,"a":40.3},{"s":"ABS-APP-439","g":"R","wn":1452,"a":37},{"s":"ABS-APP-439","g":"R","wn":1438,"a":35.3},{"s":"ABS-APP-439","g":"R","wn":1428,"a":33.7},{"s":"ABS-APP-439","g":"R","wn":1414,"a":33.7},{"s":"ABS-APP-439","g":"R","wn":1400,"a":28.7},{"s":"ABS-APP-439","g":"R","wn":1386,"a":23.7},{"s":"ABS-APP-439","g":"R","wn":1372,"a":18.7},{"s":"ABS-APP-439","g":"R","wn":1359,"a":13.7},{"s":"ABS-APP-439","g":"R","wn":1345,"a":15.3},{"s":"ABS-APP-439","g":"R","wn":1331,"a":13.7},{"s":"ABS-APP-439","g":"R","wn":1317,"a":15.3},{"s":"ABS-APP-439","g":"R","wn":1299,"a":15.3},{"s":"ABS-APP-439","g":"R","wn":1282,"a":13.7},{"s":"ABS-APP-439","g":"R","wn":1261,"a":10.3},{"s":"ABS-APP-439","g":"R","wn":1240,"a":8.7},{"s":"ABS-APP-439","g":"R","wn":1220,"a":7},{"s":"ABS-APP-439","g":"R","wn":1199,"a":8.7},{"s":"ABS-APP-439","g":"R","wn":1182,"a":12},{"s":"ABS-APP-439","g":"R","wn":1164,"a":13.7},{"s":"ABS-APP-439","g":"R","wn":1143,"a":15.3},{"s":"ABS-APP-439","g":"R","wn":1122,"a":16},{"s":"ABS-APP-439","g":"R","wn":1104,"a":18.7},{"s":"ABS-APP-439","g":"R","wn":1088,"a":16},{"s":"ABS-APP-439","g":"R","wn":1074,"a":12},{"s":"ABS-APP-439","g":"R","wn":1063,"a":8},{"s":"ABS-APP-439","g":"R","wn":1053,"a":17},{"s":"ABS-APP-439","g":"R","wn":1039,"a":27},{"s":"ABS-APP-439","g":"R","wn":1025,"a":30.3},{"s":"ABS-APP-439","g":"R","wn":1011,"a":35.3},{"s":"ABS-APP-439","g":"R","wn":997,"a":52},{"s":"ABS-APP-439","g":"R","wn":988,"a":58.7},{"s":"ABS-APP-439","g":"R","wn":979,"a":75.3},{"s":"ABS-APP-439","g":"R","wn":970,"a":88.7},{"s":"ABS-APP-439","g":"R","wn":963,"a":75.3},{"s":"ABS-APP-439","g":"R","wn":956,"a":45.3},{"s":"ABS-APP-439","g":"R","wn":949,"a":33.7},{"s":"ABS-APP-439","g":"R","wn":942,"a":45.3},{"s":"ABS-APP-439","g":"R","wn":935,"a":85.3},{"s":"ABS-APP-439","g":"R","wn":928,"a":93.7},{"s":"ABS-APP-439","g":"R","wn":914,"a":92},{"s":"ABS-APP-439","g":"R","wn":904,"a":78.7},{"s":"ABS-APP-439","g":"R","wn":896,"a":45.3},{"s":"ABS-APP-439","g":"R","wn":886,"a":13.7},{"s":"ABS-APP-439","g":"R","wn":877,"a":12},{"s":"ABS-APP-439","g":"R","wn":863,"a":17},{"s":"ABS-APP-439","g":"R","wn":849,"a":13.7},{"s":"ABS-APP-439","g":"R","wn":835,"a":12},{"s":"ABS-APP-439","g":"R","wn":817,"a":12},{"s":"ABS-APP-439","g":"R","wn":807,"a":13.7},{"s":"ABS-APP-439","g":"R","wn":799,"a":45.3},{"s":"ABS-APP-439","g":"R","wn":792,"a":82},{"s":"ABS-APP-439","g":"R","wn":786,"a":98.7}
],
"labels": [
{"t":"ABS-357°C","wn":2996,"a":368},
{"t":"ABS-APP-357°C","wn":3002,"a":271},
{"t":"ABS-439°C","wn":3647,"a":148},
{"t":"ABS-APP-439°C","wn":3566,"a":40}
],
"breaks": [
{"t":"//","wn":2386,"a":411},
{"t":"//","wn":2386,"a":0}
],
"frame": [
{"a":417}
]
},
"hconcat": [
{
"width": 277,
"height": 417,
"layer": [
{
"data": {"name": "spectra"},
"transform": [{"filter": "datum.g === 'L'"}],
"mark": {"type": "line", "strokeWidth": 1.8},
"encoding": {
"x": {"field": "wn", "type": "quantitative",
"scale": {"domain": [4000, 2391], "nice": false, "zero": false},
"axis": {"orient": "bottom", "values": [4000, 3750, 3500, 3250, 3000, 2750, 2500],
"labelExpr": "datum.value % 500 === 0 ? format(datum.value, 'd') : ''",
"labelFlush": false, "labelOverlap": false,
"tickSize": {"condition": {"test": "datum.value % 500 === 0", "value": 7}, "value": 4},
"labelPadding": 5, "labelFontSize": 15, "labelColor": "black", "labelFont": "Liberation Sans",
"tickColor": "black", "tickWidth": 1.2, "domainColor": "black", "domainWidth": 1.3, "grid": false,
"title": "Wavenumbers [cm⁻¹]", "titleFontSize": 19, "titleFontWeight": "normal", "titleColor": "black", "titleFont": "Liberation Sans",
"titleX": 279, "titleY": 46, "titleBaseline": "alphabetic", "titleAlign": "center"}},
"y": {"field": "a", "type": "quantitative",
"scale": {"domain": [0, 417], "nice": false, "zero": false},
"axis": {"orient": "left", "ticks": false, "labels": false, "grid": false, "domainColor": "black", "domainWidth": 1.3,
"title": "Absorbance", "titleFontSize": 20, "titleFontWeight": "normal", "titleColor": "black", "titleFont": "Liberation Sans",
"titleX": -10, "titleY": 222, "titleBaseline": "alphabetic", "titleAlign": "center"}},
"color": {"field": "s", "type": "nominal",
"scale": {"domain": ["ABS-357", "ABS-APP-357", "ABS-439", "ABS-APP-439"], "range": ["#000000", "#1414e6", "#000000", "#1414e6"]},
"legend": null}
}
},
{
"data": {"name": "frame"},
"mark": {"type": "rule", "color": "#222222", "strokeWidth": 1.6},
"encoding": {"y": {"field": "a", "type": "quantitative"}}
},
{
"data": {"name": "labels"},
"mark": {"type": "text", "fontSize": 19, "font": "Liberation Sans", "align": "center", "baseline": "middle", "color": "black"},
"encoding": {
"x": {"field": "wn", "type": "quantitative"},
"y": {"field": "a", "type": "quantitative"},
"text": {"field": "t"}
}
},
{
"data": {"name": "breaks"},
"mark": {"type": "text", "fontSize": 18, "font": "Liberation Sans", "align": "center", "baseline": "middle", "color": "black"},
"encoding": {
"x": {"field": "wn", "type": "quantitative"},
"y": {"field": "a", "type": "quantitative"},
"text": {"field": "t"}
}
}
]
},
{
"width": 274,
"height": 417,
"layer": [
{
"data": {"name": "spectra"},
"transform": [{"filter": "datum.g === 'R'"}],
"mark": {"type": "line", "strokeWidth": 1.8},
"encoding": {
"x": {"field": "wn", "type": "quantitative",
"scale": {"domain": [1928, 786], "nice": false, "zero": false},
"axis": {"orient": "bottom", "values": [1750, 1500, 1250, 1000],
"labelExpr": "datum.value % 500 === 0 ? format(datum.value, 'd') : ''",
"labelFlush": false, "labelOverlap": false,
"tickSize": {"condition": {"test": "datum.value % 500 === 0", "value": 7}, "value": 4},
"labelPadding": 5, "labelFontSize": 15, "labelColor": "black", "labelFont": "Liberation Sans",
"tickColor": "black", "tickWidth": 1.2, "domainColor": "black", "domainWidth": 1.3, "grid": false,
"title": null}},
"y": {"field": "a", "type": "quantitative",
"scale": {"domain": [0, 417], "nice": false, "zero": false},
"axis": null},
"color": {"field": "s", "type": "nominal",
"scale": {"domain": ["ABS-357", "ABS-APP-357", "ABS-439", "ABS-APP-439"], "range": ["#000000", "#1414e6", "#000000", "#1414e6"]},
"legend": null}
}
},
{
"data": {"name": "frame"},
"mark": {"type": "rule", "color": "#222222", "strokeWidth": 1.6},
"encoding": {"y": {"field": "a", "type": "quantitative", "axis": null}}
}
]
}
]
}
